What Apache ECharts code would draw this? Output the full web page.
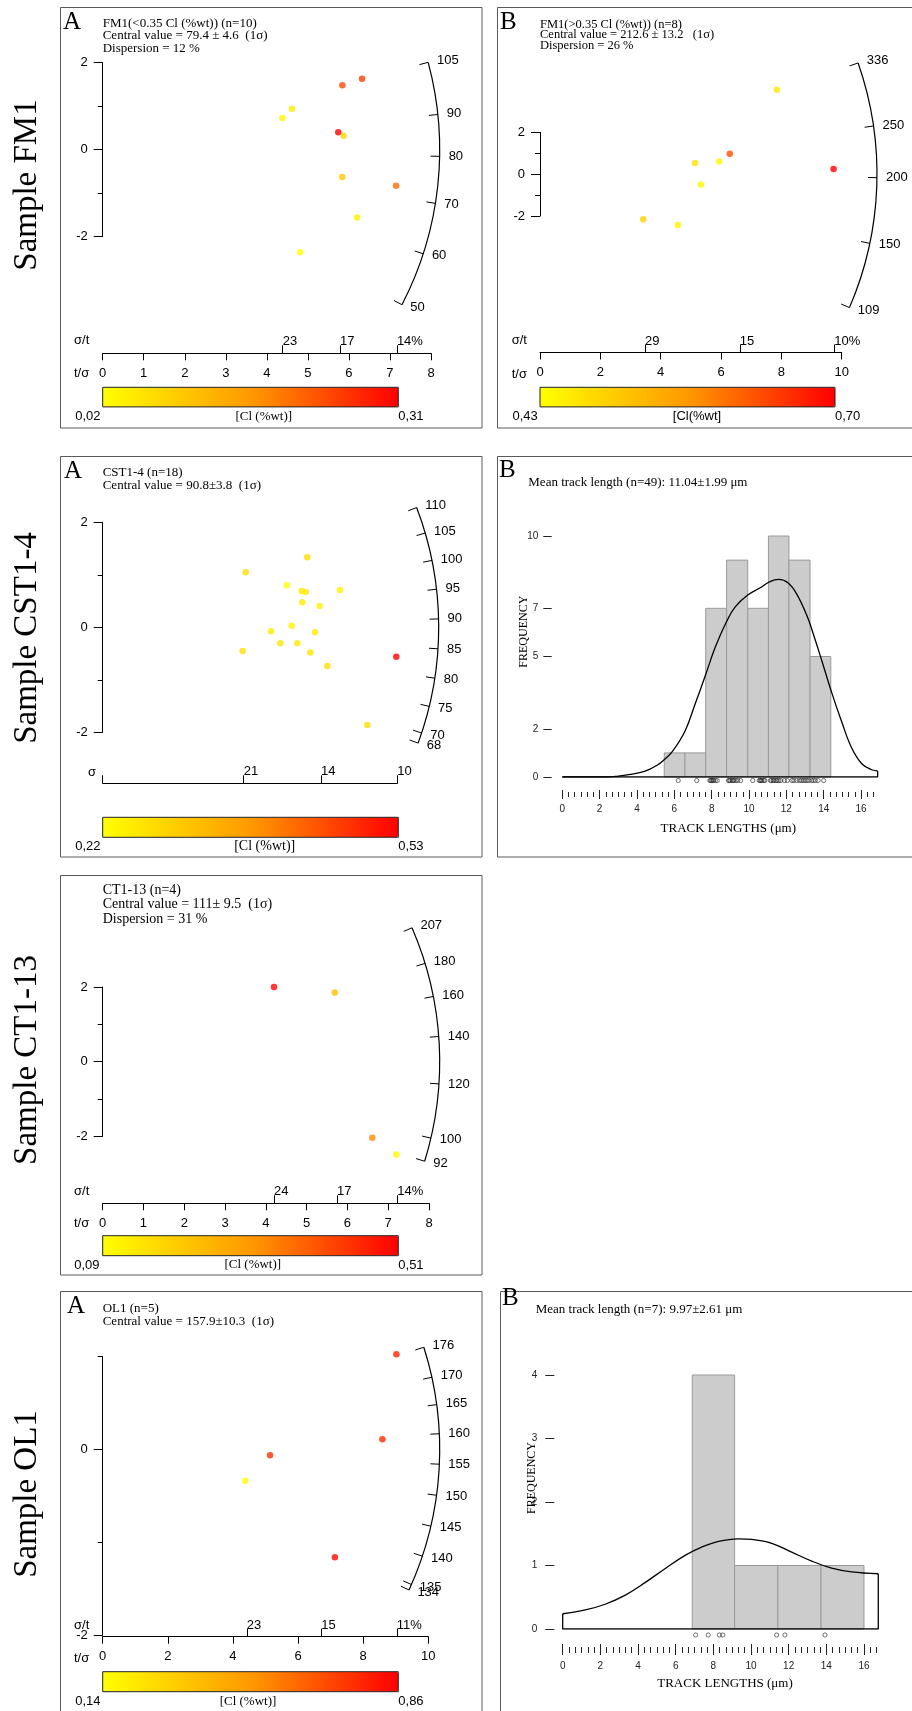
<!DOCTYPE html>
<html>
<head>
<meta charset="utf-8">
<title>Radial plots and track-length distributions</title>
<script src="https://cdn.jsdelivr.net/npm/echarts@6/dist/echarts.min.js"></script>
<style>
  html, body { margin: 0; padding: 0; background: #fff; }
  #chart { width: 912px; height: 1711px; }
</style>
</head>
<body>
<div id="chart"></div>
<script>
// ===== Radial plot data: [t/σ (1/σ for CST1-4), standardised estimate z, Cl (wt%)] =====
const fm1aPoints = [
  [6.32, 1.63, 0.25], [5.84, 1.48, 0.24], [4.61, 0.94, 0.05], [4.38, 0.73, 0.03],
  [5.74, 0.40, 0.31], [5.87, 0.32, 0.08], [5.84, -0.63, 0.10], [7.15, -0.83, 0.21],
  [6.20, -1.56, 0.04], [4.81, -2.36, 0.02]
];
const fm1aClRange = [0.02, 0.31];
const fm1aAgeTicks = [50, 60, 70, 80, 90, 105];
const fm1aAgeRef = 81.5;
const fm1aTsTicks = [0, 1, 2, 3, 4, 5, 6, 7, 8];
const fm1aErrTicks = [22.8, 17.3, 13.95];          // σ/t, %

const fm1bPoints = [
  [7.85, 4.03, 0.46], [6.29, 0.98, 0.63], [5.14, 0.53, 0.47], [5.94, 0.61, 0.44],
  [9.73, 0.25, 0.70], [5.33, -0.50, 0.44], [3.42, -2.16, 0.49], [4.57, -2.43, 0.44]
];
const fm1bClRange = [0.43, 0.70];
const fm1bAgeTicks = [109, 150, 200, 250, 336];
const fm1bAgeRef = 203;
const fm1bTsTicks = [0, 2, 4, 6, 8, 10];
const fm1bErrTicks = [28.7, 15.1, 10.25];

const cstPoints = [
  [0.04854, 1.048, 0.27], [0.06945, 1.333, 0.28], [0.06246, 0.800, 0.22], [0.06755, 0.691, 0.25],
  [0.06891, 0.672, 0.25], [0.08055, 0.710, 0.24], [0.06775, 0.476, 0.25], [0.07366, 0.406, 0.24],
  [0.06415, 0.030, 0.24], [0.05713, -0.076, 0.25], [0.07206, -0.095, 0.25], [0.06029, -0.305, 0.26],
  [0.06606, -0.305, 0.25], [0.04752, -0.451, 0.27], [0.07047, -0.482, 0.26], [0.09966, -0.560, 0.53],
  [0.07624, -0.737, 0.27], [0.08982, -1.861, 0.27]
];
const cstClRange = [0.22, 0.53];
const cstAgeTicks = [68, 70, 75, 80, 85, 90, 95, 100, 105, 110];
const cstAgeRef = 88.6;
const cstErrTicks = [20.9, 13.5, 10];               // σ, Ma

const ctPoints = [[4.20, 2.00, 0.50], [5.69, 1.85, 0.22], [6.61, -2.04, 0.32], [7.20, -2.49, 0.10]];
const ctClRange = [0.09, 0.51];
const ctAgeTicks = [92, 100, 120, 140, 160, 180, 207];
const ctAgeRef = 129;
const ctTsTicks = [0, 1, 2, 3, 4, 5, 6, 7, 8];
const ctErrTicks = [23.8, 17.4, 13.85];

const olPoints = [[9.02, 1.026, 0.78], [8.59, 0.110, 0.76], [5.14, -0.063, 0.75], [4.38, -0.336, 0.15], [7.13, -1.162, 0.84]];
const olClRange = [0.14, 0.86];
const olAgeTicks = [134, 135, 140, 145, 150, 155, 160, 165, 170, 176];
const olAgeRef = 157.4;
const olTsTicks = [0, 2, 4, 6, 8, 10];
const olErrTicks = [22.6, 14.9, 11.07];

const zTicksMajor = [-2, 0, 2];
const zTicksMinor = [-1, 1];
const olZTicksMajor = [-2, 0];
const olZTicksMinor = [-1, 1];

// ===== Track-length data =====
const cstBinEdges = [5.46, 6.57, 7.68, 8.80, 9.93, 11.04, 12.14, 13.27, 14.38];
const cstCounts = [1, 1, 7, 9, 7, 10, 9, 5];
const cstLengths = [
  6.21, 7.2,
  7.9, 7.95, 8.0, 8.05, 8.1, 8.2, 8.3,
  8.9, 8.95, 9.0, 9.1, 9.15, 9.2, 9.3, 9.4, 9.55,
  10.2, 10.55, 10.6, 10.65, 10.7, 10.8, 10.85,
  11.15, 11.2, 11.3, 11.35, 11.45, 11.5, 11.6, 11.7, 11.9, 12.05,
  12.3, 12.4, 12.55, 12.7, 12.8, 12.9, 13.0, 13.1, 13.2,
  13.35, 13.45, 13.55, 13.7, 14.0
];
const cstDensity = [
  [0, 0], [2.4, 0], [3.0, 0.04], [3.55, 0.1], [4.4, 0.23], [5.1, 0.5], [5.5, 0.75], [5.9, 1.06],
  [6.57, 1.9], [7.1, 3.0], [7.68, 4.25], [8.2, 5.4], [8.8, 6.45], [9.25, 7.05], [9.93, 7.55],
  [10.6, 7.85], [11.1, 8.1], [11.6, 8.2], [12.1, 8.05], [12.55, 7.6], [13.1, 6.7], [13.5, 5.8],
  [13.85, 4.95], [14.43, 3.5], [14.96, 2.3], [15.5, 1.2], [16.04, 0.55], [16.57, 0.3], [16.89, 0.25]
];
const cstFreqTicks = [0, 2, 5, 7, 10];

const olBinEdges = [6.88, 9.13, 11.43, 13.72, 16.0];
const olCounts = [4, 1, 1, 1];
const olLengths = [7.06, 7.73, 8.32, 8.5, 11.36, 11.8, 13.93];
const olDensity = [
  [0, 0.24], [1.2, 0.3], [2.25, 0.39], [3.3, 0.53], [4.37, 0.73], [5.43, 0.95], [6.5, 1.16],
  [7.38, 1.29], [8.27, 1.38], [9.33, 1.42], [10.04, 1.41], [11.1, 1.35], [12.16, 1.21],
  [13.22, 1.07], [14.28, 0.96], [15.35, 0.9], [16.76, 0.87]
];
const olFreqTicks = [0, 1, 2, 3, 4];

const lengthTicks = [0, 2, 4, 6, 8, 10, 12, 14, 16];

// ===== Styling =====
const SANS = "'Liberation Sans', Arial, Helvetica, sans-serif";
const NARROW = "'Liberation Sans Narrow', 'Liberation Sans', Arial, sans-serif";
const SERIF = "'Liberation Serif', 'Times New Roman', Times, serif";
const HEAT = ['#ffff00', '#ff9900', '#ff0000'];
const INK = '#000';
const FRAME = '#5a5a5a';

// ===== Panel layout =====
const radialPanels = [
  {
    points: fm1aPoints, clRange: fm1aClRange, ageTicks: fm1aAgeTicks, ageRef: fm1aAgeRef, transform: 'log',
    tsTicks: fm1aTsTicks, errTicks: fm1aErrTicks, zMajor: zTicksMajor, zMinor: zTicksMinor,
    rect: [102.7, 62.7, 328.3, 174], xMax: 8, zRange: [-2, 2], axisOffset: 116.6, arcRadius: 337,
    bar: [102.7, 387.3, 295.6, 19.6], barLabelY: 416.7, barLeftEdge: 100.5,
    clTitle: '[Cl (%wt)]', clTitleX: 263.8, clTitleFont: SERIF, clTitleSize: 13,
    errName: ['σ/t', 74, 340.7], tsName: ['t/σ', 74, 373.3]
  },
  {
    points: fm1bPoints, clRange: fm1bClRange, ageTicks: fm1bAgeTicks, ageRef: fm1bAgeRef, transform: 'log',
    tsTicks: fm1bTsTicks, errTicks: fm1bErrTicks, zMajor: zTicksMajor, zMinor: zTicksMinor,
    rect: [540, 132.3, 301.7, 83.7], xMax: 10, zRange: [-2, 2], axisOffset: 136.5, arcRadius: 337,
    bar: [540, 387.3, 295, 19.6], barLabelY: 416.7, barLeftEdge: 537.7,
    clTitle: '[Cl(%wt]', clTitleX: 697, clTitleFont: SANS, clTitleSize: 13,
    errName: ['σ/t', 511.7, 340.3], tsName: ['t/σ', 511.7, 374]
  },
  {
    points: cstPoints, clRange: cstClRange, ageTicks: cstAgeTicks, ageRef: cstAgeRef, transform: 'linear',
    tsTicks: null, errTicks: cstErrTicks, zeroTick: true, zMajor: zTicksMajor, zMinor: zTicksMinor,
    rect: [102.7, 522.3, 294.6, 210], xMax: 0.1, zRange: [-2, 2], axisOffset: 51, arcRadius: 336,
    bar: [102.7, 817.3, 295.6, 20], barLabelY: 846, barLeftEdge: 100.5,
    clTitle: '[Cl (%wt)]', clTitleX: 264.7, clTitleFont: SERIF, clTitleSize: 14,
    errName: ['σ', 88, 772.7], tsName: null
  },
  {
    points: ctPoints, clRange: ctClRange, ageTicks: ctAgeTicks, ageRef: ctAgeRef, transform: 'log',
    tsTicks: ctTsTicks, errTicks: ctErrTicks, zMajor: zTicksMajor, zMinor: zTicksMinor,
    rect: [102.7, 987, 326.3, 149.3], xMax: 8, zRange: [-2, 2], axisOffset: 67, arcRadius: 337,
    bar: [102.7, 1235.7, 295.6, 20], barLabelY: 1265, barLeftEdge: 99.5,
    clTitle: '[Cl (%wt)]', clTitleX: 252.8, clTitleFont: SERIF, clTitleSize: 13,
    errName: ['σ/t', 74, 1191.7], tsName: ['t/σ', 74, 1223.3]
  },
  {
    points: olPoints, clRange: olClRange, ageTicks: olAgeTicks, ageRef: olAgeRef, transform: 'log',
    tsTicks: olTsTicks, errTicks: olErrTicks, zMajor: olZTicksMajor, zMinor: olZTicksMinor,
    rect: [102.7, 1356.7, 325.6, 278.3], xMax: 10, zRange: [-2, 1], axisOffset: 1.7, arcRadius: 337,
    bar: [102.7, 1671.7, 295.6, 20], barLabelY: 1701.7, barLeftEdge: 100.5,
    clTitle: '[Cl (%wt)]', clTitleX: 248, clTitleFont: SERIF, clTitleSize: 13,
    errName: ['σ/t', 74, 1625], tsName: ['t/σ', 74, 1658.3]
  }
];

const histPanels = [
  {
    edges: cstBinEdges, counts: cstCounts, lengths: cstLengths, curve: cstDensity, yTicks: cstFreqTicks,
    rect: [562.3, 536, 317.4, 241], xMax: 17, yMax: 10,
    xOffset: 13, majorLen: 9, minorShift: 2, minorLen: 5, xLabelMargin: 14,
    yOffset: 10.6, yTickLen: 8.4, yLabelMargin: 13.4, rugOffset: 3.5
  },
  {
    edges: olBinEdges, counts: olCounts, lengths: olLengths, curve: olDensity, yTicks: olFreqTicks,
    rect: [562.7, 1375, 320.1, 254], xMax: 17, yMax: 4,
    xOffset: 15, majorLen: 11, minorShift: 3, minorLen: 6, xLabelMargin: 17,
    yOffset: 8.4, yTickLen: 9, yLabelMargin: 17, rugOffset: 6
  }
];

// ===== Option assembly =====
const grids = [], xAxes = [], yAxes = [], series = [], visualMaps = [], graphics = [];
const axisLine = { color: INK, width: 1 };

function gridOf(r) {
  return { left: r[0], top: r[1], width: r[2], height: r[3], containLabel: false, outerBoundsMode: 'none' };
}
function hiddenAxis(gridIndex, min, max) {
  return { gridIndex, type: 'value', min, max, show: false };
}
function text(x, y, str, o) {
  o = o || {};
  return {
    type: 'text', x, y, rotation: o.rotation || 0, z: 50, silent: true,
    style: {
      text: str, fill: o.color || INK, fontFamily: o.family || SERIF, fontSize: o.size || 13,
      align: o.align || 'left', verticalAlign: o.valign || 'middle'
    }
  };
}
function frame(x, y, w, h, stroke, lw) {
  return {
    type: 'rect', z: 40, silent: true, shape: { x, y, width: w, height: h },
    style: { fill: 'none', stroke: stroke || FRAME, lineWidth: lw || 1 }
  };
}
const fmtComma = v => v.toFixed(2).replace('.', ',');

// Age scale arc with its ticks, drawn around the origin of the radial plot
function arcRenderer(p) {
  const slope = t => p.transform === 'log' ? Math.log(t / p.ageRef) : (t - p.ageRef);
  const dir = (api, o, t) => {
    const q = api.coord([1, slope(t)]);
    const dx = q[0] - o[0], dy = q[1] - o[1];
    const len = Math.hypot(dx, dy);
    return [dx / len, dy / len];
  };
  return function (params, api) {
    const o = api.coord([0, 0]);
    const t = api.value(0);
    const d = dir(api, o, t);
    const R = p.arcRadius;
    const P = [o[0] + R * d[0], o[1] + R * d[1]];
    const children = [
      { type: 'line', shape: { x1: P[0], y1: P[1], x2: P[0] - 9 * d[0], y2: P[1] - 9 * d[1] },
        style: { stroke: INK, lineWidth: 1 } },
      { type: 'text', x: P[0] + 7 * d[0] + 2, y: P[1] + 7 * d[1],
        style: { text: String(t), fill: INK, fontFamily: SANS, fontSize: 13, align: 'left', verticalAlign: 'middle' } }
    ];
    if (params.dataIndex === 0) {
      const a0 = dir(api, o, Math.max.apply(null, p.ageTicks));
      const a1 = dir(api, o, Math.min.apply(null, p.ageTicks));
      children.push({
        type: 'arc',
        shape: { cx: o[0], cy: o[1], r: R, startAngle: Math.atan2(a0[1], a0[0]), endAngle: Math.atan2(a1[1], a1[0]), clockwise: true },
        style: { fill: 'none', stroke: INK, lineWidth: 1.2 }
      });
    }
    return { type: 'group', children };
  };
}

function addRadial(p) {
  const g0 = grids.length; grids.push(gridOf(p.rect));
  const g1 = grids.length; grids.push(gridOf(p.rect));
  const log = p.transform === 'log';
  const errPos = p.errTicks.map(v => log ? 100 / v : 1 / v);
  const minErr = Math.min.apply(null, p.errTicks);
  const errLabel = v => {
    const e = log ? 100 / v : 1 / v;
    const s = String(Math.round(e));
    return (log && Math.abs(e - minErr) < 1e-6) ? s + '%' : s;
  };
  const errAxis = (gridIndex, withLine) => ({
    gridIndex, type: 'value', min: 0, max: p.xMax, position: 'bottom', offset: p.axisOffset,
    axisLine: { show: withLine, onZero: false, lineStyle: axisLine },
    axisTick: { show: true, inside: true, length: 8, lineStyle: axisLine, customValues: p.zeroTick ? [0].concat(errPos) : errPos },
    axisLabel: { show: true, inside: true, margin: 5, align: 'left', customValues: errPos, formatter: errLabel,
                 color: INK, fontFamily: SANS, fontSize: 13 },
    splitLine: { show: false }
  });
  const x0 = xAxes.length;
  if (p.tsTicks) {
    xAxes.push({
      gridIndex: g0, type: 'value', min: 0, max: p.xMax, position: 'bottom', offset: p.axisOffset,
      axisLine: { show: true, onZero: false, lineStyle: axisLine },
      axisTick: { show: true, length: 7, lineStyle: axisLine, customValues: p.tsTicks },
      axisLabel: { show: true, margin: 13.5, customValues: p.tsTicks, color: INK, fontFamily: SANS, fontSize: 13 },
      splitLine: { show: false }
    });
    xAxes.push(errAxis(g1, false));
  } else {
    xAxes.push(errAxis(g0, true));
    xAxes.push(hiddenAxis(g1, 0, p.xMax));
  }
  const y0 = yAxes.length;
  yAxes.push({
    gridIndex: g0, type: 'value', min: p.zRange[0], max: p.zRange[1], position: 'left',
    axisLine: { show: true, onZero: false, lineStyle: axisLine },
    axisTick: { show: true, length: 9, lineStyle: axisLine, customValues: p.zMajor },
    axisLabel: { show: true, margin: 15, customValues: p.zMajor, color: INK, fontFamily: SANS, fontSize: 13 },
    splitLine: { show: false }
  });
  yAxes.push({
    gridIndex: g1, type: 'value', min: p.zRange[0], max: p.zRange[1], position: 'left',
    axisLine: { show: false, onZero: false },
    axisTick: { show: true, length: 5, lineStyle: axisLine, customValues: p.zMinor },
    axisLabel: { show: false }, splitLine: { show: false }
  });

  series.push({
    type: 'custom', xAxisIndex: x0, yAxisIndex: y0, silent: true, clip: false, z: 3,
    data: p.ageTicks.map(t => [t]), renderItem: arcRenderer(p)
  });
  series.push({
    type: 'scatter', xAxisIndex: x0, yAxisIndex: y0, data: p.points, symbol: 'circle', symbolSize: 6.5,
    clip: false, silent: true, z: 5
  });
  visualMaps.push({
    type: 'continuous', seriesIndex: series.length - 1, dimension: 2,
    min: p.clRange[0], max: p.clRange[1], orient: 'horizontal',
    left: p.bar[0], top: p.bar[1], itemWidth: p.bar[3], itemHeight: p.bar[2],
    calculable: false, hoverLink: false, padding: 0, inRange: { color: HEAT }
  });

  // colour bar outline and captions
  graphics.push(frame(p.bar[0], p.bar[1], p.bar[2], p.bar[3], '#222', 1));
  graphics.push(text(p.barLeftEdge, p.barLabelY, fmtComma(p.clRange[0]), { family: SANS, size: 13, align: 'right' }));
  graphics.push(text(p.bar[0] + p.bar[2], p.barLabelY, fmtComma(p.clRange[1]), { family: SANS, size: 13, align: 'left' }));
  graphics.push(text(p.clTitleX, p.barLabelY, p.clTitle, { family: p.clTitleFont, size: p.clTitleSize, align: 'center' }));
  graphics.push(text(p.errName[1], p.errName[2], p.errName[0], { family: SANS, size: 13 }));
  if (p.tsName) graphics.push(text(p.tsName[1], p.tsName[2], p.tsName[0], { family: SANS, size: 13 }));
}

function addHist(h) {
  const g0 = grids.length; grids.push(gridOf(h.rect));
  const g1 = grids.length; grids.push(gridOf(h.rect));
  const minorTicks = [];
  for (let k = 0; k * (1 / 3) < h.xMax - 0.2; k++) minorTicks.push(k / 3);
  const tickStyle = { color: '#222', width: 1 };
  const x0 = xAxes.length;
  xAxes.push({
    gridIndex: g0, type: 'value', min: 0, max: h.xMax, position: 'bottom', offset: h.xOffset,
    axisLine: { show: false, onZero: false },
    axisTick: { show: true, length: h.majorLen, lineStyle: tickStyle, customValues: lengthTicks },
    axisLabel: { show: true, margin: h.xLabelMargin, customValues: lengthTicks, color: '#222', fontFamily: NARROW, fontSize: 10 },
    splitLine: { show: false }
  });
  xAxes.push({
    gridIndex: g1, type: 'value', min: 0, max: h.xMax, position: 'bottom', offset: h.xOffset + h.minorShift,
    axisLine: { show: false, onZero: false },
    axisTick: { show: true, length: h.minorLen, lineStyle: tickStyle, customValues: minorTicks },
    axisLabel: { show: false }, splitLine: { show: false }
  });
  const y0 = yAxes.length;
  yAxes.push({
    gridIndex: g0, type: 'value', min: 0, max: h.yMax, position: 'left', offset: h.yOffset,
    axisLine: { show: false, onZero: false },
    axisTick: { show: true, length: h.yTickLen, lineStyle: tickStyle, customValues: h.yTicks },
    axisLabel: { show: true, margin: h.yLabelMargin, customValues: h.yTicks, color: '#222', fontFamily: NARROW, fontSize: 10 },
    splitLine: { show: false }
  });
  yAxes.push(hiddenAxis(g1, 0, h.yMax));

  // histogram bins
  series.push({
    type: 'custom', xAxisIndex: x0, yAxisIndex: y0, silent: true, z: 2,
    data: h.counts.map((c, i) => [h.edges[i], h.edges[i + 1], c]),
    encode: { x: [0, 1], y: 2 },
    renderItem: (params, api) => {
      const a = api.coord([api.value(0), api.value(2)]);
      const b = api.coord([api.value(1), 0]);
      return { type: 'rect', shape: { x: a[0], y: a[1], width: b[0] - a[0], height: b[1] - a[1] },
               style: { fill: '#cccccc', stroke: '#9a9a9a', lineWidth: 1 } };
    }
  });
  // probability density curve
  series.push({
    type: 'line', xAxisIndex: x0, yAxisIndex: y0, data: h.curve, smooth: 0.4, symbol: 'none',
    lineStyle: { color: INK, width: 1.3 }, silent: true, z: 3
  });
  // closing outline: end verticals and base line
  const first = h.curve[0], last = h.curve[h.curve.length - 1];
  series.push({
    type: 'line', xAxisIndex: x0, yAxisIndex: y0, symbol: 'none', silent: true, z: 3,
    data: [[last[0], last[1]], [last[0], 0], [first[0], 0], [first[0], first[1]]],
    lineStyle: { color: INK, width: 1.3 }
  });
  // individual track lengths
  series.push({
    type: 'scatter', xAxisIndex: x0, yAxisIndex: y0, silent: true, clip: false, z: 4,
    data: h.lengths.map(v => [v, 0]), symbol: 'circle', symbolSize: 4.2, symbolOffset: [0, h.rugOffset],
    itemStyle: { color: 'rgba(0,0,0,0)', borderColor: '#222', borderWidth: 0.8 }
  });
}

radialPanels.forEach(addRadial);
histPanels.forEach(addHist);

// ===== Frames, panel letters, headings =====
graphics.push(
  frame(60.5, 7.5, 421.5, 420.5), frame(497.5, 7.5, 430, 420.5),
  frame(60.5, 456.5, 421.5, 400.5), frame(497.5, 456.5, 430, 400.5),
  frame(60.5, 875.5, 421.5, 399.5),
  frame(60.5, 1291.5, 421.5, 440), frame(500.5, 1291.5, 430, 440)
);

const sampleLabels = [['Sample FM1', 185], ['Sample CST1-4', 638], ['Sample CT1-13', 1060], ['Sample OL1', 1494]];
sampleLabels.forEach(s => graphics.push(text(27.5, s[1], s[0], { size: 33, align: 'center', rotation: Math.PI / 2 })));

graphics.push(
  text(63, 22, 'A', { size: 25 }),
  text(102.7, 23.5, 'FM1(<0.35 Cl (%wt)) (n=10)'),
  text(102.7, 35.8, 'Central value = 79.4 ± 4.6  (1σ)'),
  text(102.7, 48.2, 'Dispersion = 12 %'),

  text(500, 22.5, 'B', { size: 25 }),
  text(540, 24.3, 'FM1(>0.35 Cl (%wt)) (n=8)', { size: 12.5 }),
  text(540, 35, 'Central value = 212.6 ± 13.2   (1σ)', { size: 12.5 }),
  text(540, 45.6, 'Dispersion = 26 %', { size: 12.5 }),

  text(64, 471, 'A', { size: 25 }),
  text(102.7, 472.2, 'CST1-4 (n=18)'),
  text(102.7, 486, 'Central value = 90.8±3.8  (1σ)'),

  text(499, 470.5, 'B', { size: 25 }),
  text(528.3, 482.3, 'Mean track length (n=49): 11.04±1.99 μm'),
  text(524.3, 631.7, 'FREQUENCY', { size: 12, align: 'center', rotation: Math.PI / 2 }),
  text(728.3, 828.3, 'TRACK LENGTHS (μm)', { size: 13, align: 'center' }),

  text(102.7, 890.7, 'CT1-13 (n=4)', { size: 14 }),
  text(102.7, 904.2, 'Central value = 111± 9.5  (1σ)', { size: 14 }),
  text(102.7, 919.2, 'Dispersion = 31 %', { size: 14 }),

  text(67, 1306, 'A', { size: 25 }),
  text(102.7, 1308.3, 'OL1 (n=5)'),
  text(102.7, 1321.8, 'Central value = 157.9±10.3  (1σ)'),

  text(502, 1298.5, 'B', { size: 25 }),
  text(535.7, 1310, 'Mean track length (n=7): 9.97±2.61 μm'),
  text(531.7, 1478, 'FREQUENCY', { size: 12, align: 'center', rotation: Math.PI / 2 }),
  text(725, 1684, 'TRACK LENGTHS (μm)', { size: 13, align: 'center' })
);

const chart = echarts.init(document.getElementById('chart'), null, { renderer: 'canvas' });
chart.setOption({
  animation: false,
  backgroundColor: '#ffffff',
  grid: grids,
  xAxis: xAxes,
  yAxis: yAxes,
  visualMap: visualMaps,
  series: series,
  graphic: { elements: graphics }
});
</script>
</body>
</html>
